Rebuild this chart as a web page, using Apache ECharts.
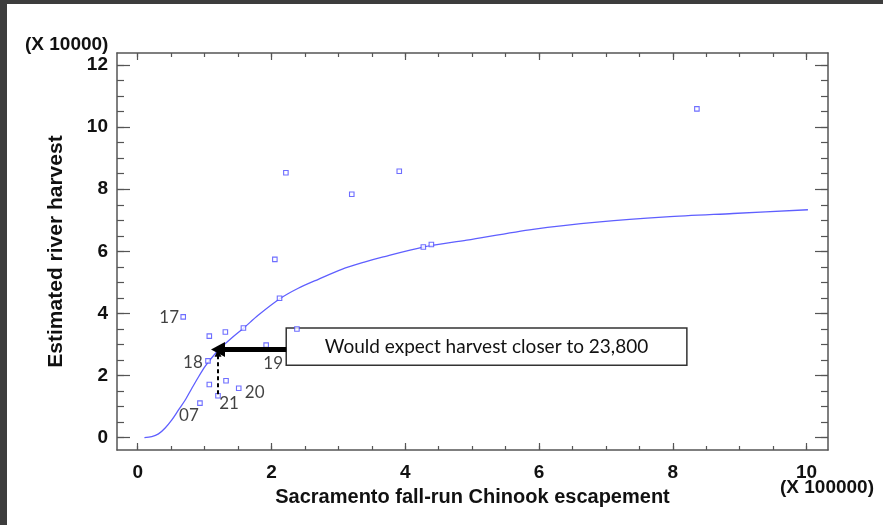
<!DOCTYPE html>
<html><head><meta charset="utf-8">
<script src="https://cdn.jsdelivr.net/npm/echarts@6/dist/echarts.min.js"></script>
<style>html,body{margin:0;padding:0;background:#fff}#c{width:883px;height:525px}</style>
</head><body><div id="c"></div>
<script>
// Observed points: escapement (x 100000) and estimated river harvest (x 10000)
const escapement = [8.36, 2.215, 3.91, 3.20, 2.05, 2.12, 4.27, 4.39, 0.68, 1.07, 1.31, 1.58, 2.38, 1.92, 1.05, 1.07, 1.32, 1.51, 1.20, 0.93];
const harvest    = [10.59, 8.53, 8.58, 7.84, 5.74, 4.49, 6.14, 6.22, 3.89, 3.27, 3.40, 3.53, 3.50, 2.98, 2.47, 1.71, 1.83, 1.59, 1.35, 1.11];
const pointLabels = ['', '', '', '', '', '', '', '', '17', '', '', '', '', '19', '18', '', '', '20', '21', '07'];

// Fitted curve
const curveX = [0.10, 0.21, 0.31, 0.41, 0.51, 0.61, 0.71, 0.81, 0.91, 1.01, 1.11, 1.23, 1.40, 1.59, 1.80, 2.13, 2.40, 2.70, 3.05, 3.40, 3.67, 4.25, 4.92, 5.91, 6.91, 7.90, 8.90, 10.02];
const curveY = [0.00, 0.03, 0.12, 0.31, 0.57, 0.89, 1.21, 1.59, 1.96, 2.30, 2.58, 2.87, 3.20, 3.54, 3.94, 4.48, 4.81, 5.10, 5.42, 5.66, 5.82, 6.13, 6.36, 6.71, 6.95, 7.11, 7.22, 7.34];

// Axis ticks and labels
const xMajorTicks = [0, 2, 4, 6, 8, 10];
const xTickLabels = ['0', '2', '4', '6', '8', '10'];
const xMinorTicks = [0, 0.5, 1, 1.5, 2, 2.5, 3, 3.5, 4, 4.5, 5, 5.5, 6, 6.5, 7, 7.5, 8, 8.5, 9, 9.5, 10];
const yMajorTicks = [0, 2, 4, 6, 8, 10, 12];
const yTickLabels = ['0', '2', '4', '6', '8', '10', '12'];
const yMinorTicks = [0, 0.5, 1, 1.5, 2, 2.5, 3, 3.5, 4, 4.5, 5, 5.5, 6, 6.5, 7, 7.5, 8, 8.5, 9, 9.5, 10, 10.5, 11, 11.5, 12];

// Annotation
const annotationText = 'Would expect harvest closer to 23,800';
const boxFrom = [2.22, 3.53];
const boxTo = [8.21, 2.33];
const arrowFrom = [2.22, 2.84];
const arrowTo = [1.20, 2.84];
const dashedFrom = [1.20, 1.40];
const dashedTo = [1.20, 2.72];

// Style-only settings
const labelOffsets = {'17': [-14, 1], '18': [-15, 2], '19': [7, 18], '20': [16, 4], '21': [11, 8], '07': [-11, 12]};
const X_MIN = -0.31, X_MAX = 10.32, Y_MIN = -0.40, Y_MAX = 12.39;
const AX = '#555';
const LBL = 'Liberation Sans, Arial, sans-serif';
const NOTE = 'Lato, sans-serif';

function xAxisDef(pos, ticks, len, withLabel, withLine, name) {
  return {
    type: 'value', position: pos, min: X_MIN, max: X_MAX,
    name: name || '', nameLocation: 'middle', nameGap: 37,
    nameTextStyle: {fontFamily: LBL, fontWeight: 'bold', fontSize: 20, color: '#111'},
    axisLine: {show: withLine, onZero: false, lineStyle: {color: AX, width: 1.5}},
    axisTick: {show: true, inside: true, length: len, customValues: ticks, lineStyle: {color: AX, width: 1.2}},
    axisLabel: withLabel ? {show: true, customValues: xMajorTicks, margin: 13,
      formatter: v => xTickLabels[xMajorTicks.indexOf(v)],
      fontFamily: LBL, fontWeight: 'bold', fontSize: 19, color: '#111'} : {show: false},
    splitLine: {show: false}
  };
}
function yAxisDef(pos, ticks, len, withLabel, withLine, name) {
  return {
    type: 'value', position: pos, min: Y_MIN, max: Y_MAX,
    name: name || '', nameLocation: 'middle', nameGap: 50, nameRotate: 90,
    nameTextStyle: {fontFamily: LBL, fontWeight: 'bold', fontSize: 21, color: '#111'},
    axisLine: {show: withLine, onZero: false, lineStyle: {color: AX, width: 1.5}},
    axisTick: {show: true, inside: true, length: len, customValues: ticks, lineStyle: {color: AX, width: 1.2}},
    axisLabel: withLabel ? {show: true, customValues: yMajorTicks, margin: 9,
      formatter: v => yTickLabels[yMajorTicks.indexOf(v)],
      fontFamily: LBL, fontWeight: 'bold', fontSize: 19, color: '#111'} : {show: false},
    splitLine: {show: false}
  };
}

const chart = echarts.init(document.getElementById('c'), null, {renderer: 'canvas'});
const scatterData = escapement.map((x, i) => {
  const lab = pointLabels[i];
  const item = {value: [x, harvest[i]]};
  if (lab) {
    item.label = {show: true, formatter: lab, position: 'inside', offset: labelOffsets[lab],
      fontFamily: NOTE, fontSize: 17, color: '#111'};
  }
  return item;
});

chart.setOption({
  animation: false,
  backgroundColor: '#fff',
  grid: {left: 117, right: 55, top: 53, bottom: 75},
  xAxis: [
    xAxisDef('bottom', xMajorTicks, 7, true, true, 'Sacramento fall-run Chinook escapement'),
    xAxisDef('bottom', xMinorTicks, 4, false, false),
    xAxisDef('top', xMajorTicks, 7, false, true),
    xAxisDef('top', xMinorTicks, 4, false, false)
  ],
  yAxis: [
    yAxisDef('left', yMajorTicks, 13, true, true, 'Estimated river harvest'),
    yAxisDef('left', yMinorTicks, 7, false, false),
    yAxisDef('right', yMajorTicks, 13, false, true),
    yAxisDef('right', yMinorTicks, 7, false, false)
  ],
  series: [
    {
      type: 'scatter', data: [], xAxisIndex: 0, yAxisIndex: 0, silent: true, z: 1,
      markArea: {
        silent: true,
        itemStyle: {color: '#fff', borderColor: '#333', borderWidth: 1.5},
        label: {show: true, position: 'inside', formatter: annotationText,
          fontFamily: NOTE, fontSize: 19, color: '#111'},
        data: [[{coord: boxFrom}, {coord: boxTo}]]
      }
    },
    {
      type: 'line', data: curveX.map((x, i) => [x, curveY[i]]), xAxisIndex: 0, yAxisIndex: 0,
      smooth: 0.3, showSymbol: false, z: 2,
      lineStyle: {color: '#5f5fff', width: 1.3}
    },
    {
      type: 'scatter', data: scatterData, xAxisIndex: 0, yAxisIndex: 0, z: 3,
      symbol: 'rect', symbolSize: 4.5,
      itemStyle: {color: '#fff', borderColor: '#4a4aff', borderWidth: 1.1}
    },
    {
      type: 'scatter', data: [], xAxisIndex: 0, yAxisIndex: 0, z: 4, silent: true,
      markLine: {
        silent: true, animation: false,
        label: {show: false},
        data: [
          [{coord: arrowFrom, symbol: 'none'}, {coord: arrowTo, symbol: 'triangle', symbolSize: [15, 14],
            lineStyle: {color: '#000', width: 5, type: 'solid'}}],
          [{coord: dashedFrom, symbol: 'none'}, {coord: dashedTo, symbol: 'triangle', symbolSize: [7, 7],
            lineStyle: {color: '#000', width: 2, type: [4, 3]}}]
        ],
        lineStyle: {color: '#000'}
      }
    }
  ],
  graphic: [
    {type: 'rect', shape: {x: 0, y: 0, width: 883, height: 4}, style: {fill: '#3d3d3d'}, silent: true},
    {type: 'rect', shape: {x: 0, y: 0, width: 7, height: 525}, style: {fill: '#3d3d3d'}, silent: true},
    {type: 'text', left: 25, top: 35, style: {text: '(X 10000)', font: 'bold 19px ' + LBL, fill: '#111'}},
    {type: 'text', left: 780, top: 478, style: {text: '(X 100000)', font: 'bold 19px ' + LBL, fill: '#111'}}
  ]
});
</script>
</body></html>
